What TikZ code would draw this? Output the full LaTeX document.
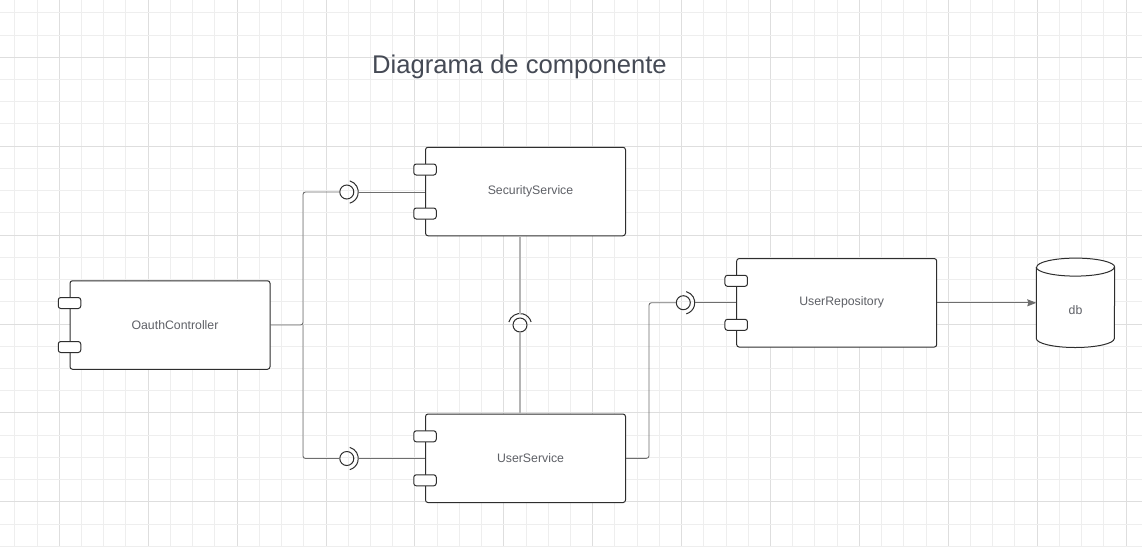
\documentclass[tikz,border=0pt]{standalone}
\usepackage{fontspec}
\setmainfont{Liberation Sans}
\usepackage{tikz}
\usetikzlibrary{positioning,calc,arrows.meta}

\definecolor{gridminor}{HTML}{EEEEEE}
\definecolor{gridmajor}{HTML}{DEDEDE}
\definecolor{wiregray}{HTML}{6E6E6E}
\definecolor{linkgray}{HTML}{B4B4B4}
\definecolor{labelgray}{HTML}{5E6066}
\definecolor{titlegray}{HTML}{454A55}
\definecolor{strokegray}{HTML}{2E2E2E}

\tikzset{
  comp/.style={draw=strokegray,line width=1pt,fill=white,rounded corners=2.5pt,
    minimum width=200pt,minimum height=88.5pt,inner sep=0pt,
    text=labelgray,font=\fontsize{12.3}{14}\selectfont},
  port/.style={draw=strokegray,line width=1pt,fill=white,rounded corners=2.5pt,
    minimum width=22.5pt,minimum height=11pt,inner sep=0pt},
  ball/.style={circle,draw=strokegray,line width=1pt,minimum size=14pt,inner sep=0pt},
  socket/.style={draw=strokegray,line width=1pt},
  wire/.style={draw=wiregray,line width=0.9pt,rounded corners=2.5pt},
  dbbox/.style={minimum width=78pt,minimum height=89pt,inner sep=0pt},
  dblabel/.style={text=labelgray,font=\fontsize{12.3}{14}\selectfont},
}
\newcommand{\compname}[1]{\hspace*{10pt}#1}

\begin{document}
\begin{tikzpicture}[x=1pt,y=-1pt]
  \useasboundingbox[fill=white] (0,0) rectangle (1142,547);

  % grid
  \foreach \k [evaluate=\k as \gx using 14.85+22.225*\k] in {0,...,51} {
    \pgfmathtruncatemacro{\m}{mod(\k,4)}
    \ifnum\m=2 \draw[gridmajor,line width=1pt] (\gx,0) -- (\gx,547);
    \else \draw[gridminor,line width=1pt] (\gx,0) -- (\gx,547); \fi
  }
  \foreach \k [evaluate=\k as \gy using 12.85+22.225*\k] in {0,...,24} {
    \pgfmathtruncatemacro{\m}{mod(\k,4)}
    \ifnum\m=2 \draw[gridmajor,line width=1pt] (0,\gy) -- (1142,\gy);
    \else \draw[gridminor,line width=1pt] (0,\gy) -- (1142,\gy); \fi
  }

  % title
  \node[text=titlegray,font=\fontsize{25.6}{30}\selectfont] (title) at (519.5,66.5) {Diagrama de componente};

  % components
  \node[comp] (oauth) at (170,325) {\compname{OauthController}};
  \node[comp] (sec) at (525.5,191.5) {\compname{SecurityService}};
  \node[comp] (usr) at (525.5,458.3) {\compname{UserService}};
  \node[comp] (repo) at (836.7,302.8) {\compname{UserRepository}};

  \foreach \c in {oauth,sec,usr,repo} {
    \node[port] (\c-a) at ($(\c.west)+(0,-22)$) {};
    \node[port] (\c-b) at ($(\c.west)+(0,22)$) {};
  }

  % database
  \node[dbbox] (db) at (1075.5,302.8) {};
  \draw[socket,fill=white] ($(db.north west)+(0,9)$)
    -- ($(db.south west)+(0,-9)$)
    arc[start angle=180,end angle=0,x radius=39,y radius=9]
    -- ($(db.north east)+(0,9)$)
    arc[start angle=0,end angle=-180,x radius=39,y radius=9];
  \draw[socket] ($(db.north west)+(0,9)$) arc[start angle=180,end angle=0,x radius=39,y radius=9];
  \node[dblabel] (dbname) at ($(db)+(0,7.5)$) {db};

  % interfaces
  \node[ball] (secball) at (346.8,192) {};
  \node[ball] (usrball) at (346.8,458.5) {};
  \node[ball] (midball) at (520,325) {};
  \node[ball] (repoball) at (683.3,302.7) {};

  \foreach \b in {secball,usrball,repoball} {
    \draw[socket] ($(\b)+(-75:11.5)$) arc[start angle=-75,end angle=75,radius=11.5];
    \coordinate (\b-s) at ($(\b)+(11.5,0)$);
  }
  \draw[socket] ($(midball)+(-165:11.5)$) arc[start angle=-165,end angle=-15,radius=11.5];
  \coordinate (midball-s) at ($(midball)+(0,-11.5)$);

  % connectors
  \coordinate (split) at (303,325);
  \coordinate (bend) at (649,458.3);
  \draw[wire] (oauth.east) -- (split) |- (secball.west);
  \draw[wire] (split) |- (usrball.west);
  \draw[wire] (secball-s) -- (sec.west |- secball);
  \draw[wire] (usrball-s) -- (usr.west |- usrball);
  \draw[wire] (usr.east) -- (bend) |- (repoball.west);
  \draw[wire] (repoball-s) -- (repo.west |- repoball);
  \draw[draw=linkgray,line width=1.2pt] (midball-s) -- (midball-s |- sec.south);
  \draw[draw=linkgray,line width=1.2pt] (midball.south) -- (midball.south |- usr.north);

  \draw[-{Stealth[length=9pt,width=7pt,inset=1pt]},draw=wiregray,fill=wiregray,line width=0.9pt]
    (repo.east) -- (db.west);
\end{tikzpicture}
\end{document}
